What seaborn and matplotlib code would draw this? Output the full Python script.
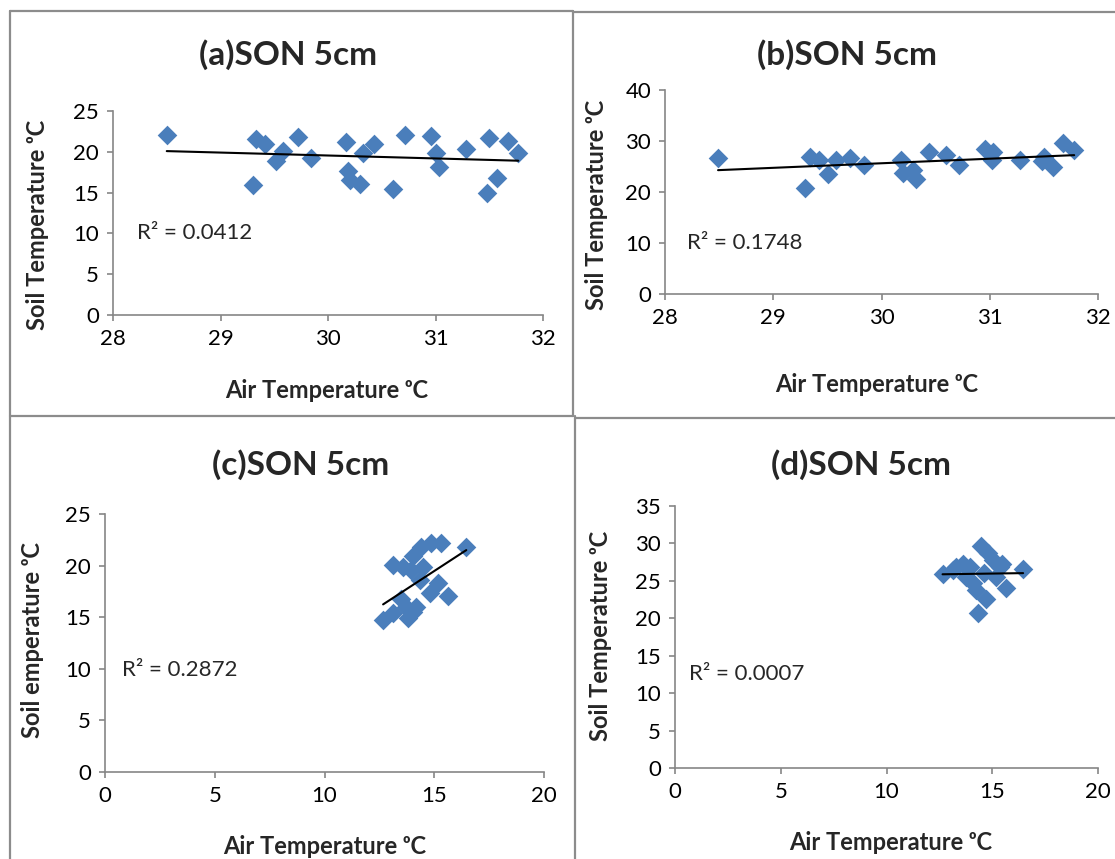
import numpy as np
import matplotlib
matplotlib.use("Agg")
import matplotlib.pyplot as plt
from matplotlib.lines import Line2D
import seaborn as sns

# (a) and (b): air temperature 28-32 C
air_a = [28.50, 29.30, 29.33, 29.41, 29.52, 29.58, 29.72, 29.84, 30.17, 30.19, 30.20, 30.30,
         30.33, 30.43, 30.60, 30.72, 30.96, 31.00, 31.03, 31.28, 31.48, 31.50, 31.57, 31.67, 31.77]
soil_a = [22.1, 15.9, 21.6, 21.0, 18.9, 20.1, 21.8, 19.3, 21.2, 17.6, 16.5, 16.0,
          19.8, 20.9, 15.4, 22.1, 21.9, 19.8, 18.1, 20.4, 14.9, 21.7, 16.8, 21.3, 19.8]

air_b = [28.49, 29.29, 29.34, 29.42, 29.51, 29.58, 29.71, 29.84, 30.18, 30.20, 30.29, 30.32,
         30.44, 30.60, 30.72, 30.96, 31.03, 31.02, 31.28, 31.48, 31.50, 31.58, 31.68, 31.78]
soil_b = [26.7, 20.7, 26.9, 26.2, 23.5, 26.3, 26.7, 25.3, 26.3, 23.8, 24.3, 22.6,
          27.9, 27.3, 25.3, 28.4, 27.9, 26.3, 26.3, 26.0, 26.9, 24.9, 29.7, 28.2]

# (c) and (d): air temperature 12-17 C
air_c = [12.67, 13.12, 13.58, 14.03, 14.41, 14.87, 15.33, 16.46, 13.96, 14.49,
         14.34, 15.17, 14.79, 15.63, 13.50, 13.73, 14.19, 13.12, 13.81, 14.03]
soil_c = [14.7, 20.1, 19.9, 20.9, 21.8, 22.2, 22.2, 21.8, 19.6, 19.9,
          18.6, 18.3, 17.3, 17.1, 16.8, 16.0, 16.0, 15.4, 14.9, 15.5]

air_d = [12.65, 16.46, 14.33, 14.49, 15.67, 14.72, 13.30, 13.60, 14.10, 15.04,
         15.20, 13.15, 13.94, 14.80, 14.25, 13.78, 14.63, 15.35, 15.45]
soil_d = [25.9, 26.6, 20.7, 29.6, 24.0, 22.6, 26.8, 27.3, 24.7, 27.8,
          25.5, 26.5, 26.9, 28.7, 23.8, 25.5, 26.0, 26.9, 27.3]

titles = ["(a)SON 5cm", "(b)SON 5cm", "(c)SON 5cm", "(d)SON 5cm"]
ylabels = ["Soil Temperature ᵒC", "Soil Temperature ᵒC", "Soil emperature ᵒC", "Soil Temperature ᵒC"]
xlabel = "Air Temperature ᵒC"
r2_text = ["R² = 0.0412", "R² = 0.1748", "R² = 0.2872", "R² = 0.0007"]

sns.set_style("white")
plt.rcParams["font.family"] = ["Lato", "DejaVu Sans"]

W, H = 1115, 859
fig = plt.figure(figsize=(W / 100, H / 100), dpi=100)


def fx(x):
    return x / W


def fy(y):
    return 1 - y / H


# axes boxes in pixels: left, right, top, bottom
boxes = [(113, 543, 111, 315), (665, 1098, 90, 294), (105, 544, 514, 772), (675, 1098, 506, 768)]
xlims = [(28, 32), (28, 32), (0, 20), (0, 20)]
ylims = [(0, 25), (0, 40), (0, 25), (0, 35)]
xsteps = [1, 1, 5, 5]
ysteps = [5, 10, 5, 5]
data = [(air_a, soil_a), (air_b, soil_b), (air_c, soil_c), (air_d, soil_d)]

title_pos = [(288, 55), (847, 55), (301, 465), (861, 465)]
xlab_pos = [(327, 391), (877, 385), (325, 846), (891, 843)]
ylab_pos = [(38, 225), (597, 205), (33, 640), (600, 636)]
r2_pos = [(137, 233), (687, 243), (122, 670), (689, 674)]

gray = "#868686"
blue = "#4A7EBB"

for i in range(4):
    l, r, t, b = boxes[i]
    ax = fig.add_axes([fx(l), fy(b), (r - l) / W, (b - t) / H])
    x, y = data[i]
    sns.scatterplot(x=x, y=y, ax=ax, marker="D", s=100, color=blue, edgecolor=blue,
                    linewidth=0, zorder=2, clip_on=False)
    sns.regplot(x=x, y=y, ax=ax, scatter=False, ci=None, truncate=True, color="black",
                line_kws={"lw": 1.5, "zorder": 3})
    ax.set_xlim(*xlims[i])
    ax.set_ylim(*ylims[i])
    ax.set_xticks(np.arange(xlims[i][0], xlims[i][1] + 0.01, xsteps[i]))
    ax.set_yticks(np.arange(ylims[i][0], ylims[i][1] + 0.01, ysteps[i]))
    ax.set_xlabel("")
    ax.set_ylabel("")
    for side in ["top", "right"]:
        ax.spines[side].set_visible(False)
    for side in ["left", "bottom"]:
        ax.spines[side].set_color(gray)
        ax.spines[side].set_linewidth(1.2)
    ax.tick_params(direction="out", length=4, width=1.2, color=gray, labelsize=16,
                   labelcolor="black", pad=6, left=True, bottom=True)

    fig.text(fx(title_pos[i][0]), fy(title_pos[i][1]), titles[i], fontsize=24,
             fontweight="bold", ha="center", va="center")
    fig.text(fx(xlab_pos[i][0]), fy(xlab_pos[i][1]), xlabel, fontsize=17,
             fontweight="bold", ha="center", va="center")
    fig.text(fx(ylab_pos[i][0]), fy(ylab_pos[i][1]), ylabels[i], fontsize=17,
             fontweight="bold", ha="center", va="center", rotation=90)
    fig.text(fx(r2_pos[i][0]), fy(r2_pos[i][1]), r2_text[i], fontsize=16,
             ha="left", va="center")

# panel borders
segments = [((10, 11), (573, 11)), ((10, 11), (10, 860)), ((573, 12), (1116, 12)),
            ((573, 11), (573, 416)), ((10, 416), (573, 416)), ((575, 418), (1116, 418)),
            ((575, 416), (575, 860))]
for (x0, y0), (x1, y1) in segments:
    fig.add_artist(Line2D([fx(x0), fx(x1)], [fy(y0), fy(y1)], color="#8c8c8c", lw=1.6))

fig.savefig("out.png", dpi=100)
